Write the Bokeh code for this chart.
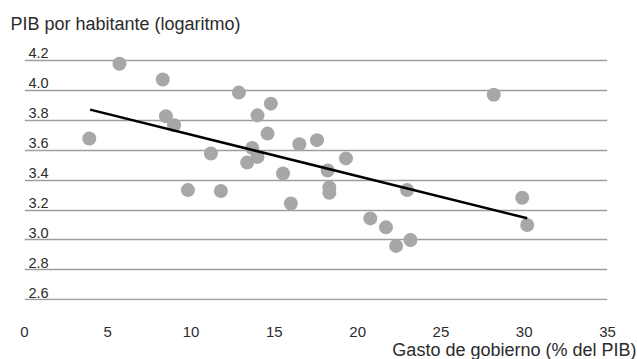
from bokeh.plotting import figure
from bokeh.models import FixedTicker, Title, ColumnDataSource
from bokeh.core.properties import value
from bokeh.embed import file_html
from bokeh.resources import INLINE

# Data
gasto = [3.89, 5.70, 8.30, 8.49, 8.98, 11.19, 12.87, 14.79, 13.99, 14.59,
         13.67, 13.99, 13.37, 15.52, 16.50, 17.56, 19.30, 18.20, 28.17, 9.81,
         11.79, 15.99, 18.30, 18.30, 22.97, 29.88, 30.18, 20.76, 21.70, 22.31,
         23.17]
pib = [3.678, 4.178, 4.073, 3.827, 3.767, 3.578, 3.985, 3.911, 3.833, 3.711,
       3.615, 3.555, 3.518, 3.444, 3.640, 3.667, 3.545, 3.464, 3.971, 3.333,
       3.327, 3.244, 3.351, 3.315, 3.333, 3.282, 3.100, 3.144, 3.084, 2.960,
       3.000]
fit_x = [3.94, 30.18]
fit_y = [3.871, 3.145]
y_ticks = [2.6, 2.8, 3.0, 3.2, 3.4, 3.6, 3.8, 4.0, 4.2]
y_tick_labels = ["2.6", "2.8", "3.0", "3.2", "3.4", "3.6", "3.8", "4.0", "4.2"]
x_ticks = [0, 5, 10, 15, 20, 25, 30, 35]

FONT = "Liberation Sans"
TXT = "#2b2b2b"

p = figure(width=637, height=359, output_backend="svg", toolbar_location=None,
           x_range=(0, 35), y_range=(2.595, 4.32),
           min_border_left=24, min_border_right=30,
           min_border_top=42, min_border_bottom=59,
           outline_line_color=None, background_fill_color="white",
           border_fill_color="white")

p.xgrid.visible = False
p.ygrid.ticker = FixedTicker(ticks=y_ticks)
p.ygrid.grid_line_color = "#9e9e9e"
p.ygrid.grid_line_width = 1.4
p.yaxis.visible = False

xa = p.xaxis[0]
xa.ticker = FixedTicker(ticks=x_ticks)
xa.axis_line_color = None
xa.major_tick_line_color = None
xa.minor_tick_line_color = None
xa.major_label_standoff = 20
xa.major_label_text_font = FONT
xa.major_label_text_font_size = "15px"
xa.major_label_text_color = TXT

# y tick labels sitting above the grid lines
lab_src = ColumnDataSource(dict(x=[0] * len(y_ticks), y=y_ticks, t=y_tick_labels))
p.text(x="x", y="y", text="t", source=lab_src, x_offset=4, y_offset=-2,
       text_align="left", text_baseline="bottom",
       text_font=value(FONT), text_font_size="14.5px", text_color=TXT)

p.scatter(gasto, pib, size=14, color="#a7a7a9", line_color=None)
p.line(fit_x, fit_y, line_color="black", line_width=2.5)

p.add_layout(Title(text="PIB por habitante (logaritmo)", align="left",
                   offset=-14, standoff=18, text_font=FONT,
                   text_font_size="18px", text_font_style="normal",
                   text_color=TXT), "above")
p.add_layout(Title(text="Gasto de gobierno (% del PIB)", align="right",
                   offset=-29, standoff=-3, text_font=FONT,
                   text_font_size="18px", text_font_style="normal",
                   text_color=TXT), "below")

open("out.html", "w").write(file_html(p, INLINE))
